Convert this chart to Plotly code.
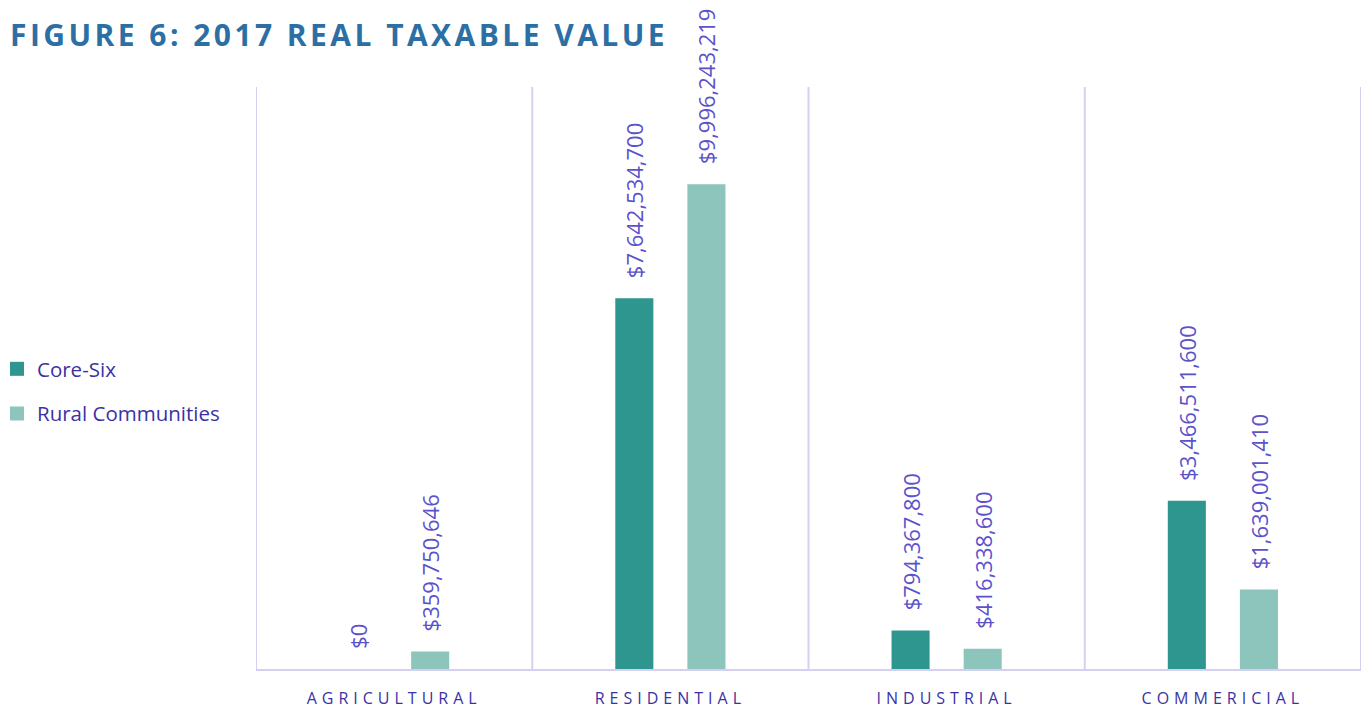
import plotly.graph_objects as go

categories = ["AGRICULTURAL", "RESIDENTIAL", "INDUSTRIAL", "COMMERICIAL"]
core_six = [0, 7642534700, 794367800, 3466511600]
rural = [359750646, 9996243219, 416338600, 1639001410]

series_names = ["Core-Six", "Rural Communities"]
series_colors = ["#2e968f", "#8dc4bc"]

label_color = "#5b52cc"
text_color = "#3a32a3"
line_color = "#d5d0f2"
font_family = "Open Sans, Lato, sans-serif"


def money(v):
    # leading no-break spaces keep the rotated label clear of the bar top
    return "\u00a0\u00a0\u00a0" + "${:,.0f}".format(v)


def spaced(s, px):
    return '<span style="letter-spacing:%spx">%s</span>' % (px, s)


fig = go.Figure()
for i, (name, vals) in enumerate(zip(series_names, [core_six, rural])):
    fig.add_trace(go.Bar(
        x=categories,
        y=vals,
        name=name,
        showlegend=False,
        marker=dict(color=series_colors[i], line=dict(width=0)),
        text=[money(v) for v in vals],
        textposition="outside",
        textangle=-90,
        constraintext="none",
        cliponaxis=False,
        textfont=dict(family=font_family, size=22, color=label_color),
        hoverinfo="skip",
    ))

# legend entries with square swatches
for i, name in enumerate(series_names):
    fig.add_trace(go.Scatter(
        x=[None], y=[None], mode="markers", name=name, legendgroup=name,
        marker=dict(symbol="square", size=14, color=series_colors[i]),
        hoverinfo="skip",
    ))

# category separators
for xb in [-0.5, 0.5, 1.5, 2.5, 3.5]:
    fig.add_shape(type="line", xref="x", yref="y", x0=xb, x1=xb, y0=0, y1=12e9,
                  line=dict(color=line_color, width=2), layer="below")

fig.update_layout(
    width=1364, height=708,
    margin=dict(l=256, r=3, t=87, b=39, autoexpand=False),
    paper_bgcolor="white", plot_bgcolor="white",
    barmode="group", bargap=0.478, bargroupgap=0.472,
    showlegend=True,
    legend=dict(
        x=(-3 - 256) / 1105, xanchor="left",
        y=(669 - 349) / 582, yanchor="top",
        font=dict(family=font_family, size=20.5, color=text_color),
        itemwidth=30,
        tracegroupgap=15, bgcolor="rgba(0,0,0,0)",
        itemclick=False, itemdoubleclick=False,
    ),
    title=dict(
        text="<b>" + spaced("FIGURE 6: 2017 REAL TAXABLE VALUE", 3.45) + "</b>",
        xref="container", yref="container",
        x=10 / 1364, xanchor="left",
        y=1 - 35 / 708, yanchor="middle",
        font=dict(family=font_family, size=30, color="#2c6fa4"),
    ),
    xaxis=dict(
        type="category",
        range=[-0.5, 3.5],
        tickmode="array",
        tickvals=categories,
        ticktext=[spaced(c, 5) for c in categories],
        ticks="",
        ticklabelstandoff=14,
        tickfont=dict(family=font_family, size=16, color=text_color),
        showline=True, linecolor=line_color, linewidth=2,
        showgrid=False, zeroline=False,
        automargin=False,
    ),
    yaxis=dict(
        range=[0, 12e9],
        visible=False,
        showgrid=False, zeroline=False,
        automargin=False,
    ),
)

fig.write_html("out.html")
